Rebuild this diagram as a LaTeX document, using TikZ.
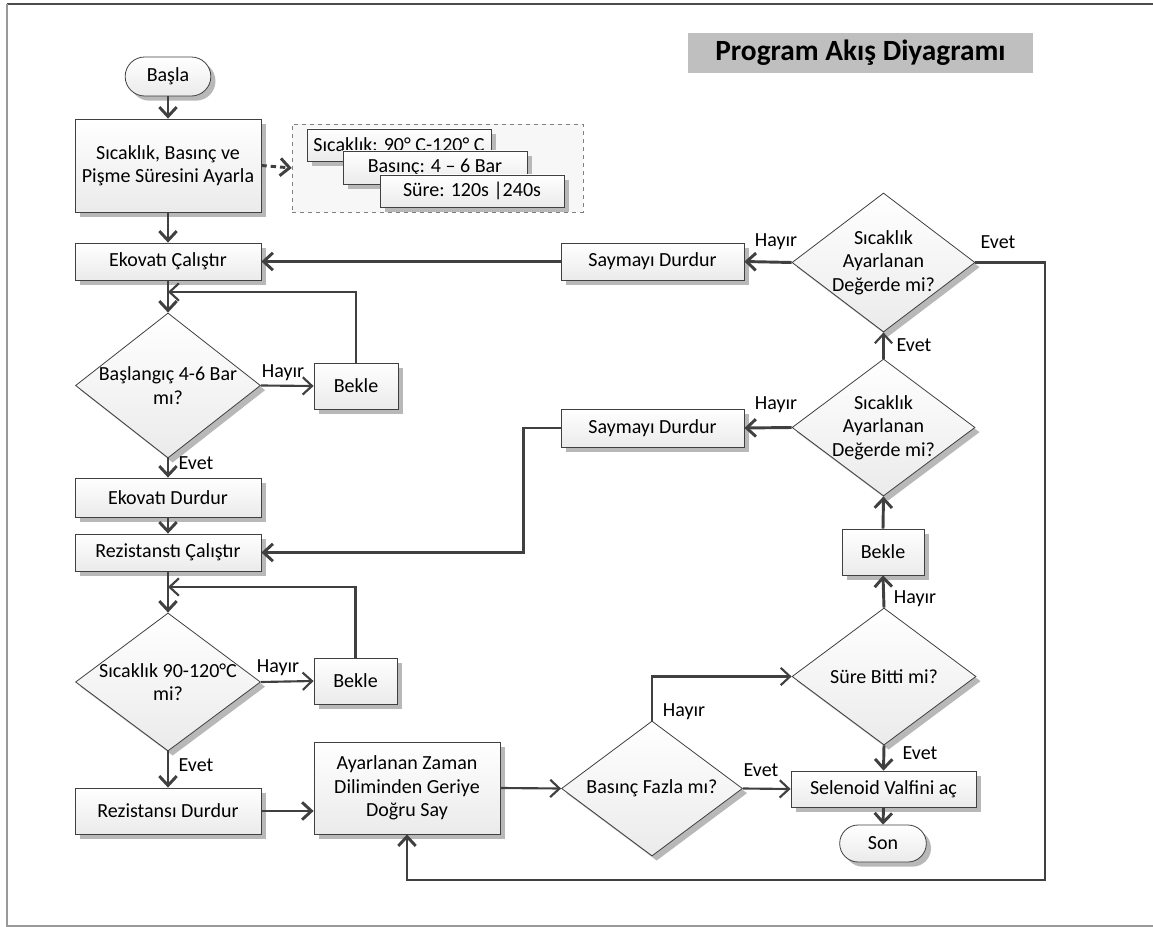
\documentclass[tikz,border=0pt]{standalone}
\usepackage{fontspec}
\setmainfont{Carlito}
\usetikzlibrary{shapes.geometric,shapes.misc,shadows,arrows.meta}
\definecolor{linegray}{HTML}{404040}
\definecolor{titlegray}{HTML}{BFBFBF}

\begin{document}
\begin{tikzpicture}[x=0.75pt,y=-0.75pt,
	font=\fontsize{15}{17.5}\selectfont,
	>={Straight Barb[length=7pt,width=13pt]},
	box/.style={draw=linegray,line width=0.6pt,top color=white,bottom color=black!8,
		drop shadow={shadow xshift=3.5pt,shadow yshift=-3.5pt,fill=black!28,opacity=1},
		inner sep=2pt,align=center},
	dec/.style={box,diamond,inner sep=0pt},
	term/.style={box,rounded rectangle},
	conn/.style={->,draw=linegray,line width=2.2pt},
	thin/.style={->,draw=linegray,line width=1.6pt},
	lbl/.style={inner sep=0pt}]
	\useasboundingbox (0,0) rectangle (1153,927);
	% frame
	\draw[black!70,line width=1pt] (7,4) -- (1153,4);
	\draw[black!40,line width=1.5pt] (7,4) -- (7,926) -- (1153,926);
	\node[fill=titlegray,minimum width=258.75pt,minimum height=30pt,font=\fontsize{22}{26}\bfseries\selectfont] (title) at (860.5,53) {Program Akış Diyagramı};
	% left column
	\node[term,minimum width=68.25pt,minimum height=29.25pt] (basla) at (168,76.5) {Başla};
	\node[box,minimum width=139.5pt,minimum height=69.75pt] (ayarla) at (168,165.5) {Sıcaklık, Basınç ve\\Pişme Süresini Ayarla};
	\node[draw=black!50,dashed,fill=black!3,minimum width=218.25pt,minimum height=66pt] (grp) at (437.5,168) {};
	\node[box,minimum width=138pt,minimum height=24pt] (p1) at (399,145) {Sıcaklık: 90° C-120° C};
	\node[box,minimum width=138pt,minimum height=24.75pt] (p2) at (435,167.5) {Basınç: 4 – 6 Bar};
	\node[box,minimum width=138pt,minimum height=24pt] (p3) at (472,191) {Süre: 120s |240s};
	\node[box,minimum width=139.5pt,minimum height=27.75pt] (ekocalis) at (168,261.5) {Ekovatı Çalıştır};
	\node[dec,minimum width=138.75pt,minimum height=108.75pt,label={[align=center]center:Başlangıç 4-6 Bar\\mı?}] (d1) at (168,385.5) {};
	\node[box,minimum width=63pt,minimum height=34.5pt] (bekle1) at (356,386) {Bekle};
	\node[box,minimum width=139.5pt,minimum height=29.25pt] (ekodur) at (168,497.5) {Ekovatı Durdur};
	\node[box,minimum width=139.5pt,minimum height=27.75pt] (rezcalis) at (168,552.5) {Rezistanstı Çalıştır};
	\node[dec,minimum width=138.75pt,minimum height=103.5pt,label={[align=center]center:Sıcaklık 90-120°C\\mi?}] (d2) at (168,682) {};
	\node[box,minimum width=62.25pt,minimum height=34.5pt] (bekle2) at (355.5,681) {Bekle};
	\node[box,minimum width=139.5pt,minimum height=34.5pt] (rezdur) at (168,811) {Rezistansı Durdur};
	% right part
	\node[box,minimum width=139.5pt,minimum height=69pt] (sayac) at (407,788) {Ayarlanan Zaman\\Diliminden Geriye\\Doğru Say};
	\node[dec,minimum width=135.75pt,minimum height=101.25pt,label={center:Basınç Fazla mı?}] (d4) at (652,788.5) {};
	\node[dec,minimum width=138pt,minimum height=102.75pt,label={center:Süre Bitti mi?}] (d5) at (884,676.5) {};
	\node[box,minimum width=138.75pt,minimum height=27pt] (selenoid) at (883.5,789) {Selenoid Valfini aç};
	\node[term,minimum width=69pt,minimum height=27.75pt] (son) at (883,843.5) {Son};
	\node[box,minimum width=61.5pt,minimum height=34.5pt] (bekle3) at (883,552) {Bekle};
	\node[dec,minimum width=137.25pt,minimum height=102.75pt,label={[align=center]center:Sıcaklık\\Ayarlanan\\Değerde mi?}] (d6) at (883.5,427.5) {};
	\node[box,minimum width=137.25pt,minimum height=28.5pt] (say2) at (652.5,428) {Saymayı Durdur};
	\node[dec,minimum width=137.25pt,minimum height=104.25pt,label={[align=center]center:Sıcaklık\\Ayarlanan\\Değerde mi?}] (d7) at (883.5,262.5) {};
	\node[box,minimum width=137.25pt,minimum height=27.75pt] (say1) at (652.5,261.5) {Saymayı Durdur};
	\coordinate (j1) at (168,292);
	\coordinate (j2) at (168,587);
	\coordinate (k1) at (1045,880);
	% connectors
	\draw[conn] (basla.south) -- (ayarla.north);
	\draw[conn,dash pattern=on 4pt off 3pt] (ayarla.east) -- (grp.west);
	\draw[conn] (ayarla.south) -- (ekocalis.north);
	\draw[conn] (ekocalis.south) -- (d1.north);
	\draw[thin] (d1.east) -- (bekle1.west);
	\draw[thin] (bekle1.north) |- (j1);
	\draw[conn] (d1.south) -- (ekodur.north);
	\draw[conn] (ekodur.south) -- (rezcalis.north);
	\draw[conn] (rezcalis.south) -- (d2.north);
	\draw[thin] (d2.east) -- (bekle2.west);
	\draw[thin] (bekle2.north) |- (j2);
	\draw[conn] (d2.south) -- (rezdur.north);
	\draw[conn] (rezdur.east) -- (sayac.west |- rezdur.east);
	\draw[thin] (sayac.east) -- (d4.west);
	\draw[thin] (d4.east) -- (selenoid.west);
	\draw[thin] (d4.north) |- (d5.west);
	\draw[conn] (d5.south) -- (selenoid.north);
	\draw[conn] (selenoid.south) -- (son.north);
	\draw[conn] (d5.north) -- (bekle3.south);
	\draw[conn] (bekle3.north) -- (d6.south);
	\draw[conn] (d6.west) -- (say2.east);
	\draw[thin] (d6.north) -- (d7.south);
	\draw[conn] (d7.west) -- (say1.east);
	\draw[conn] (say1.west) -- (ekocalis.east);
	\draw[conn] (say2.west) -- ++(-37,0) |- (rezcalis.east);
	\draw[conn] (d7.east) -| (k1) -| (sayac.south);
	% labels
	\node[lbl] (h1) at (283,373) {Hayır};
	\node[lbl] (e1) at (196,463) {Evet};
	\node[lbl] (h2) at (278,668) {Hayır};
	\node[lbl] (e2) at (196,765) {Evet};
	\node[lbl] (h4) at (684,712) {Hayır};
	\node[lbl] (e4) at (761,770) {Evet};
	\node[lbl] (h5) at (915,599) {Hayır};
	\node[lbl] (e5) at (920,753) {Evet};
	\node[lbl] (h6) at (776,405) {Hayır};
	\node[lbl] (e6) at (914,345) {Evet};
	\node[lbl] (h7) at (776,242) {Hayır};
	\node[lbl] (e7) at (998,242) {Evet};
\end{tikzpicture}
\end{document}
